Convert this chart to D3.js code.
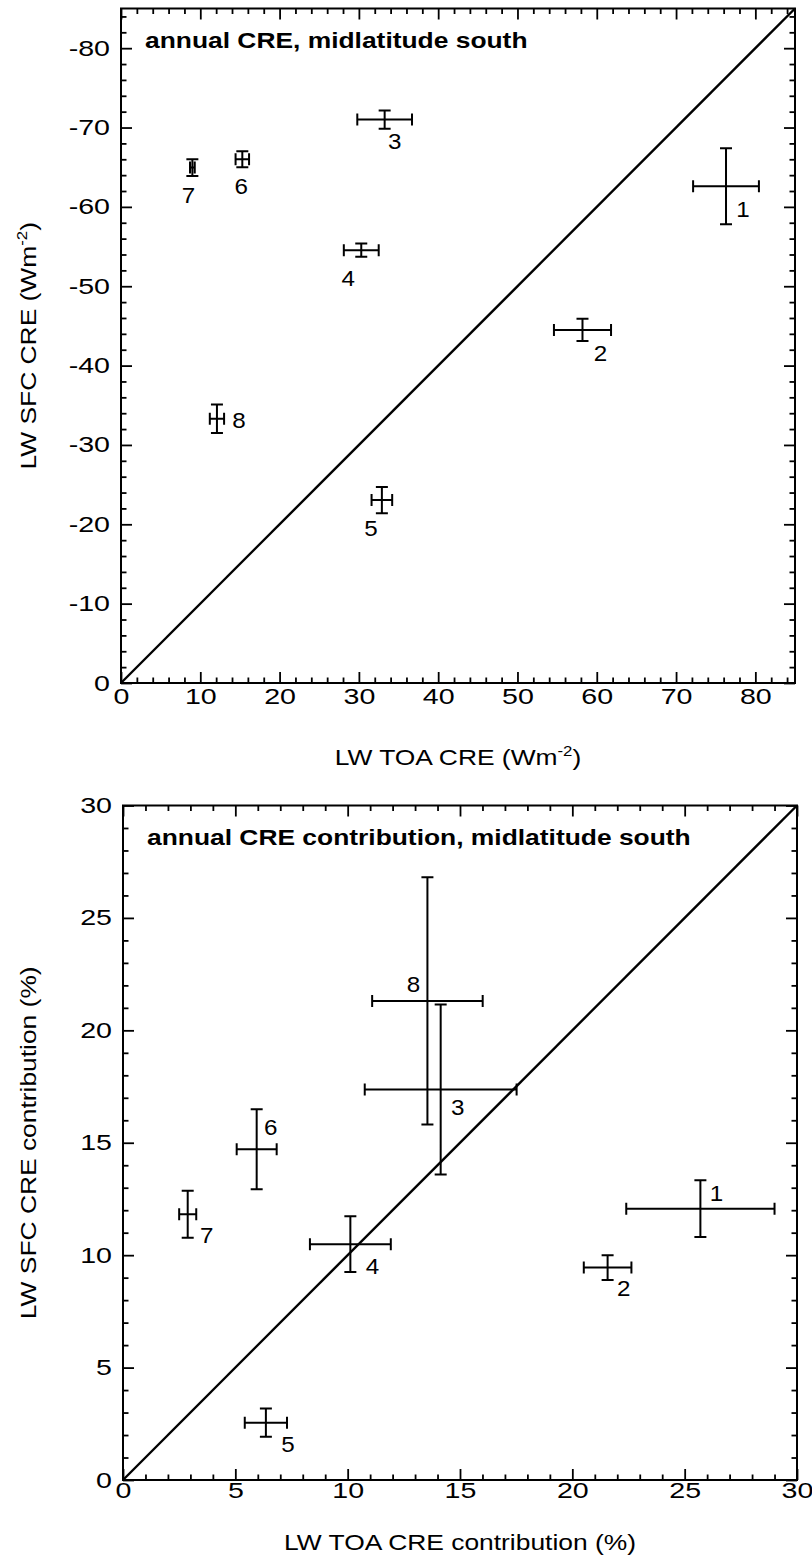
<!DOCTYPE html>
<html>
<head>
<meta charset="utf-8">
<script src="https://cdn.jsdelivr.net/npm/d3@7"></script>
<style>
  html, body { margin: 0; padding: 0; background: #fff; }
  svg { display: block; }
</style>
</head>
<body>
<svg id="chart" width="812" height="1560"></svg>
<script>
// Longwave cloud radiative effect (CRE), midlatitude south, for eight numbered cases.
const caseIds = ["1", "2", "3", "4", "5", "6", "7", "8"];

// Upper panel: annual CRE (W m-2)
const toaCre    = [76.3, 58.2, 33.25, 30.3, 32.9, 15.3, 9.0, 12.1];
const toaCreErr = [4.15, 3.6, 3.45, 2.2, 1.3, 0.85, 0.3, 0.9];
const sfcCre    = [-62.6, -44.5, -71.0, -54.55, -23.05, -66.0, -64.95, -33.3];
const sfcCreErr = [4.8, 1.4, 1.15, 0.85, 1.65, 1.0, 1.05, 1.8];

// Lower panel: annual CRE contribution (%)
const toaContrib    = [25.7, 21.57, 14.14, 10.12, 6.36, 5.95, 2.88, 13.55];
const toaContribErr = [3.3, 1.06, 3.38, 1.8, 0.94, 0.89, 0.38, 2.46];
const sfcContrib    = [12.07, 9.45, 17.37, 10.49, 2.55, 14.71, 11.82, 21.31];
const sfcContribErr = [1.26, 0.55, 3.78, 1.24, 0.63, 1.78, 1.04, 5.5];

// Axis ticks and their labels
const creXTicks = [0, 10, 20, 30, 40, 50, 60, 70, 80];
const creXTickLabels = ["0", "10", "20", "30", "40", "50", "60", "70", "80"];
const creYTicks = [0, -10, -20, -30, -40, -50, -60, -70, -80];
const creYTickLabels = ["0", "-10", "-20", "-30", "-40", "-50", "-60", "-70", "-80"];
const contribTicks = [0, 5, 10, 15, 20, 25, 30];
const contribTickLabels = ["0", "5", "10", "15", "20", "25", "30"];

// ---- layout and style ----
const FONT = "'Liberation Sans', Arial, Helvetica, sans-serif";
const FS = 22;           // base font size
const STRETCH = { tick: 1.3, title: 1.2, axisTitle: 1.2, label: 1.1 };
const CAP = 6;           // half-width of error-bar caps
const MAJOR = 11, MINOR = 5.5;

// pixel offsets of the case numbers from their points
const creLabelOffsets = [[17, 23], [18, 23], [10, 21], [-13, 28], [-11, 28], [-1, 27], [-4, 27], [22, 1]];
const contribLabelOffsets = [[16, -16], [16, 21], [17, 18], [22, 22], [22, 21], [14, -22], [19, 21], [-14, -17]];

const svg = d3.select("#chart");

function stretchedText(parent, x, y, str, opts = {}) {
  const sx = opts.sx || 1;
  const t = parent.append("text")
    .attr("transform", `translate(${x},${y})${opts.rotate ? ` rotate(${opts.rotate})` : ""} scale(${sx},1)`)
    .attr("font-family", FONT)
    .attr("font-size", opts.size || FS)
    .attr("font-weight", opts.bold ? "bold" : "normal")
    .attr("text-anchor", opts.anchor || "start")
    .attr("fill", "#000");
  if (opts.dy) t.attr("dy", opts.dy);
  return t.text(str);
}

function drawPanel(p) {
  const g = svg.append("g");
  const x = d3.scaleLinear().domain(p.xDomain).range([p.left, p.right]);
  const y = d3.scaleLinear().domain(p.yDomain).range([p.bottom, p.top]);

  const xMinor = d3.range(p.xDomain[0], p.xDomain[1] + 1e-9, p.xMinorStep).filter(v => !p.xTicks.includes(v));
  const yMinor = d3.range(p.yDomain[0], p.yDomain[1] + (p.yMinorStep > 0 ? 1e-9 : -1e-9), p.yMinorStep)
    .filter(v => !p.yTicks.some(t => Math.abs(t - v) < 1e-9));

  function styleAxis(sel) {
    sel.select(".domain").remove();
    sel.selectAll(".tick line").attr("stroke", "#000").attr("stroke-width", 1.8);
    sel.attr("font-family", FONT).attr("font-size", FS);
    sel.selectAll(".tick text").attr("fill", "#000");
  }

  // major ticks with labels (bottom, left)
  const bottomAxis = g.append("g").attr("transform", `translate(0,${p.bottom})`)
    .call(d3.axisBottom(x).tickValues(p.xTicks).tickSizeInner(-MAJOR).tickSizeOuter(0)
      .tickPadding(p.xPad).tickFormat((d, i) => p.xTickLabels[i]));
  styleAxis(bottomAxis);
  bottomAxis.selectAll(".tick text").attr("transform", `scale(${STRETCH.tick},1)`);

  const leftAxis = g.append("g").attr("transform", `translate(${p.left},0)`)
    .call(d3.axisLeft(y).tickValues(p.yTicks).tickSizeInner(-MAJOR).tickSizeOuter(0)
      .tickPadding(p.yPad).tickFormat((d, i) => p.yTickLabels[i]));
  styleAxis(leftAxis);
  leftAxis.selectAll(".tick text").attr("transform", `scale(${STRETCH.tick},1)`);

  // unlabelled major ticks (top, right) and minor ticks on all sides
  const tickSets = [
    [d3.axisTop(x).tickValues(p.xTicks).tickSize(-MAJOR), `translate(0,${p.top})`],
    [d3.axisRight(y).tickValues(p.yTicks).tickSize(-MAJOR), `translate(${p.right},0)`],
    [d3.axisBottom(x).tickValues(xMinor).tickSize(-MINOR), `translate(0,${p.bottom})`],
    [d3.axisTop(x).tickValues(xMinor).tickSize(-MINOR), `translate(0,${p.top})`],
    [d3.axisLeft(y).tickValues(yMinor).tickSize(-MINOR), `translate(${p.left},0)`],
    [d3.axisRight(y).tickValues(yMinor).tickSize(-MINOR), `translate(${p.right},0)`]
  ];
  tickSets.forEach(([ax, tr]) => {
    const a = g.append("g").attr("transform", tr).call(ax.tickFormat(""));
    styleAxis(a);
  });

  // frame
  g.append("rect")
    .attr("x", p.left).attr("y", p.top)
    .attr("width", p.right - p.left).attr("height", p.bottom - p.top)
    .attr("fill", "none").attr("stroke", "#000").attr("stroke-width", 2);

  // 1:1 line
  g.append("path")
    .datum([[p.xDomain[0], p.yDomain[0]], [p.xDomain[1], p.yDomain[1]]])
    .attr("d", d3.line().x(d => x(d[0])).y(d => y(d[1])))
    .attr("fill", "none").attr("stroke", "#000").attr("stroke-width", 2.4);

  // error bars
  const pts = caseIds.map((id, i) => ({
    id, x: p.xs[i], xe: p.xErr[i], y: p.ys[i], ye: p.yErr[i], off: p.labelOffsets[i]
  }));
  const segs = [];
  pts.forEach(d => {
    const cx = x(d.x), cy = y(d.y);
    const x0 = x(d.x - d.xe), x1 = x(d.x + d.xe);
    const y0 = y(d.y - d.ye), y1 = y(d.y + d.ye);
    segs.push(`M${x0},${cy}H${x1}`, `M${x0},${cy - CAP}V${cy + CAP}`, `M${x1},${cy - CAP}V${cy + CAP}`);
    segs.push(`M${cx},${y0}V${y1}`, `M${cx - CAP},${y0}H${cx + CAP}`, `M${cx - CAP},${y1}H${cx + CAP}`);
  });
  g.append("path").attr("d", segs.join(""))
    .attr("stroke", "#000").attr("stroke-width", 2).attr("fill", "none");

  // case numbers
  pts.forEach(d => {
    stretchedText(g, x(d.x) + d.off[0], y(d.y) + d.off[1], d.id,
      { anchor: "middle", dy: "0.36em", sx: STRETCH.label });
  });

  // panel title
  stretchedText(g, p.left + 24, p.titleY, p.title, { bold: true, sx: STRETCH.title });

  // axis titles
  const xt = stretchedText(g, (p.left + p.right) / 2, p.xTitleY, "", { anchor: "middle", sx: STRETCH.axisTitle });
  p.xTitle(xt);
  const yt = stretchedText(g, p.yTitleX, (p.top + p.bottom) / 2, "", { anchor: "middle", rotate: -90, sx: STRETCH.axisTitle });
  p.yTitle(yt);
}

function withUnit(label) {
  return t => {
    t.append("tspan").text(label + " (Wm");
    t.append("tspan").attr("font-size", 14).attr("dy", -9).text("-2");
    t.append("tspan").attr("dy", 9).text(")");
  };
}

drawPanel({
  left: 121, right: 795, top: 8.5, bottom: 683,
  xDomain: [0, 85], yDomain: [0, -85],
  xTicks: creXTicks, xTickLabels: creXTickLabels, xMinorStep: 2,
  yTicks: creYTicks, yTickLabels: creYTickLabels, yMinorStep: -2,
  xPad: 5, yPad: 8.5,
  xs: toaCre, xErr: toaCreErr, ys: sfcCre, yErr: sfcCreErr,
  labelOffsets: creLabelOffsets,
  title: "annual CRE, midlatitude south", titleY: 48,
  xTitleY: 765, yTitleX: 36,
  xTitle: withUnit("LW TOA CRE"),
  yTitle: withUnit("LW SFC CRE")
});

drawPanel({
  left: 123, right: 797, top: 805.5, bottom: 1480,
  xDomain: [0, 30], yDomain: [0, 30],
  xTicks: contribTicks, xTickLabels: contribTickLabels, xMinorStep: 1,
  yTicks: contribTicks, yTickLabels: contribTickLabels, yMinorStep: 1,
  xPad: 2, yPad: 8.5,
  xs: toaContrib, xErr: toaContribErr, ys: sfcContrib, yErr: sfcContribErr,
  labelOffsets: contribLabelOffsets,
  title: "annual CRE contribution, midlatitude south", titleY: 845,
  xTitleY: 1550, yTitleX: 36,
  xTitle: t => t.text("LW TOA CRE contribution (%)"),
  yTitle: t => t.text("LW SFC CRE contribution (%)")
});
</script>
</body>
</html>
